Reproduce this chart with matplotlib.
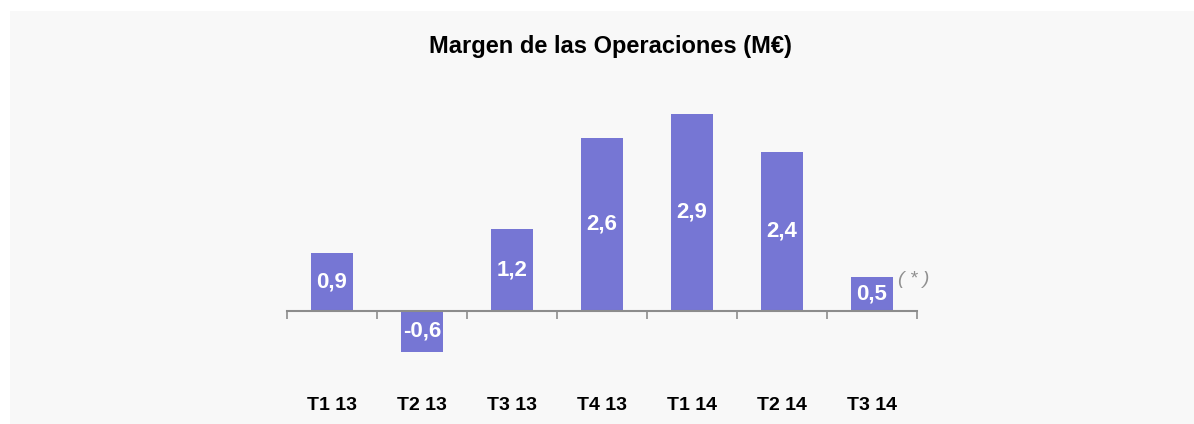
import matplotlib
matplotlib.use('Agg')
import matplotlib.pyplot as plt
from matplotlib.patches import Rectangle
import numpy as np

# datos del margen por trimestre (M€)
quarters = ['T1 13', 'T2 13', 'T3 13', 'T4 13', 'T1 14', 'T2 14', 'T3 14']
margin = [0.86, -0.60, 1.22, 2.57, 2.92, 2.36, 0.50]

plt.rcParams['font.family'] = ['Liberation Sans', 'DejaVu Sans']

fig = plt.figure(figsize=(11.94, 4.24), dpi=100)
fig.patch.set_facecolor('white')
# fondo gris claro del panel
fig.patches.append(Rectangle((10 / 1194, 0), 1 - 10 / 1194, 1 - 11 / 424,
                             transform=fig.transFigure, facecolor='#f8f8f8',
                             edgecolor='none', zorder=-5))

ax = fig.add_axes([287 / 1194, 44 / 424, 630 / 1194, 280 / 424])
ax.set_facecolor('none')

x = np.arange(len(quarters))
bars = ax.bar(x, margin, width=0.467, color='#7676d4', zorder=2)

for xi, v in zip(x, margin):
    ax.text(xi, v / 2, f'{v:.1f}'.replace('.', ','), ha='center', va='center',
            color='white', fontsize=16, fontweight='bold', zorder=3)

ax.text(6.29, 0.47, '( * )', ha='left', va='center', color='#909090',
        fontsize=14, style='italic')

ax.set_xlim(-0.5, len(quarters) - 0.5)
ax.set_ylim(-1.022, 3.126)

for s in ['top', 'right', 'left']:
    ax.spines[s].set_visible(False)
ax.spines['bottom'].set_position(('data', 0))
ax.spines['bottom'].set_color('#8c8c8c')
ax.spines['bottom'].set_linewidth(1.5)
ax.set_yticks([])

ax.set_xticks(np.arange(len(quarters) + 1) - 0.5)
ax.set_xticklabels([])
ax.tick_params(axis='x', which='major', length=6, width=1.2, color='#8c8c8c')
ax.set_xticks(x, minor=True)
ax.set_xticklabels(quarters, minor=True, fontsize=14, fontweight='bold')
ax.tick_params(axis='x', which='minor', length=0, pad=62)

fig.text(610 / 1194, 1 - 47 / 424, 'Margen de las Operaciones (M€)',
         ha='center', va='center', fontsize=17, fontweight='bold')

fig.savefig('out.png', dpi=100, facecolor=fig.get_facecolor())
